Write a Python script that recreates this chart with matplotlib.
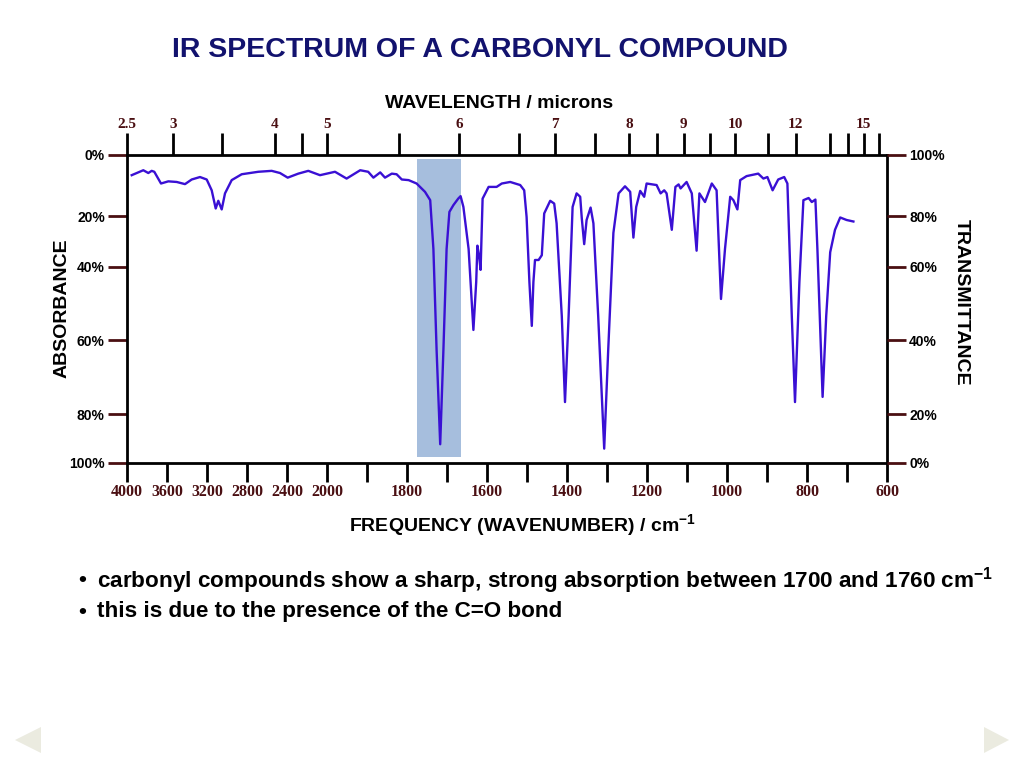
#!/usr/bin/env python3
"""
IR spectrum of a carbonyl compound - split wavenumber axis, absorbance / transmittance
"""

import matplotlib
matplotlib.use('Agg')
import matplotlib.pyplot as plt
import numpy as np
from matplotlib.patches import Rectangle, Polygon

plt.rcParams['font.family'] = ['Liberation Sans', 'DejaVu Sans']
plt.rcParams['mathtext.fontset'] = 'custom'
plt.rcParams['mathtext.rm'] = 'Liberation Sans'
plt.rcParams['mathtext.bf'] = 'Liberation Sans:bold'

# spectrum: wavenumber (cm-1) and transmittance (%)
wavenumber = [3953, 3837, 3787, 3753, 3727, 3660, 3587, 3503, 3420, 3353,
              3270, 3203, 3153, 3113, 3087, 3053, 3020, 2953, 2853, 2687,
              2553, 2470, 2393, 2287, 2187, 2070, 1980, 1951, 1917, 1897,
              1884, 1867, 1855, 1838, 1826, 1813, 1796, 1776, 1755, 1742,
              1734, 1726, 1717, 1709, 1701, 1694, 1684, 1672, 1666, 1659,
              1646, 1634, 1627, 1624, 1620, 1616, 1611, 1596, 1576, 1563,
              1542, 1517, 1507, 1501, 1494, 1488, 1484, 1480, 1471, 1463,
              1457, 1442, 1432, 1426, 1413, 1405, 1396, 1386, 1376, 1367,
              1363, 1357, 1351, 1341, 1334, 1322, 1307, 1297, 1284, 1271,
              1255, 1242, 1234, 1227, 1217, 1207, 1201, 1176, 1166, 1157,
              1151, 1138, 1129, 1121, 1116, 1101, 1088, 1076, 1069, 1055,
              1038, 1026, 1015, 1005, 992, 984, 974, 967, 951, 922,
              909, 899, 886, 872, 857, 849, 838, 830, 819, 809,
              796, 788, 779, 774, 761, 752, 742, 730, 717, 701, 684]
transmittance = [93.3, 94.9, 94.0, 94.7, 94.4, 90.6, 91.3, 91.1, 90.4, 91.9,
                 92.7, 91.9, 88.4, 82.5, 85.0, 82.2, 87.4, 91.7, 93.6, 94.4,
                 94.7, 94.0, 92.5, 93.8, 94.7, 93.3, 94.4, 92.2, 94.9, 94.4,
                 92.5, 94.2, 92.5, 93.8, 93.6, 91.9, 91.7, 90.6, 87.9, 85.2,
                 67.0, 37.3, 7.7, 37.3, 67.0, 81.4, 83.6, 85.7, 86.5, 83.0,
                 67.0, 42.8, 55.8, 68.3, 64.5, 59.1, 85.7, 89.5, 89.5, 90.6,
                 91.1, 90.1, 88.4, 79.7, 55.8, 43.9, 55.8, 62.6, 62.6, 64.5,
                 80.9, 85.0, 84.1, 77.2, 46.5, 23.3, 46.5, 83.0, 87.4, 86.3,
                 79.1, 68.9, 78.5, 82.8, 77.2, 46.5, 5.9, 37.3, 73.4, 87.4,
                 89.7, 87.9, 71.5, 83.0, 88.2, 86.3, 90.6, 90.1, 87.4, 88.4,
                 87.4, 74.6, 89.5, 90.3, 89.0, 91.1, 87.4, 66.3, 87.4, 84.6,
                 90.6, 88.4, 51.2, 67.0, 86.3, 85.2, 82.2, 91.7, 93.0, 93.8,
                 92.2, 92.7, 88.4, 91.9, 92.7, 90.6, 46.5, 23.3, 55.8, 85.2,
                 85.9, 84.6, 85.4, 67.0, 24.7, 46.5, 65.7, 74.6, 79.5, 78.5, 77.9]

# shaded carbonyl band
band_wn = (1776, 1666)
band_t = (2.5, 98.7)

# axis ticks
bottom_ticks = [4000, 3600, 3200, 2800, 2400, 2000, 1900, 1800, 1700, 1600,
                1500, 1400, 1300, 1200, 1100, 1000, 900, 800, 700, 600]
bottom_labels = ['4000', '3600', '3200', '2800', '2400', '2000', '', '1800', '',
                 '1600', '', '1400', '', '1200', '', '1000', '', '800', '', '600']
top_ticks = [4000, 3540, 3050, 2520, 2250, 2000, 1820, 1670, 1520, 1430, 1330,
             1245, 1175, 1108, 1042, 980, 897, 828, 743, 697, 658, 619]
top_labels = ['2.5', '3', '', '4', '', '5', '', '6', '', '7', '',
              '8', '', '9', '', '10', '', '12', '', '', '15', '']
trans_ticks = [100, 80, 60, 40, 20, 0]
absorb_labels = ['0%', '20%', '40%', '60%', '80%', '100%']
trans_labels = ['100%', '80%', '60%', '40%', '20%', '0%']


# split frequency scale: 10 cm-1 per unit above 2000, 2.5 below
def x_fwd(w):
    w = np.asarray(w, dtype=float)
    return np.where(w <= 2000, w * 0.4, 800 + (w - 2000) * 0.1)


def x_inv(p):
    p = np.asarray(p, dtype=float)
    return np.where(p <= 800, p / 0.4, 2000 + (p - 800) / 0.1)


# the printed chart has uneven gaps between its percentage gridlines
T_KNOTS = [0, 20, 40, 60, 80, 100]
P_KNOTS = [0, 48.7, 122.7, 196.4, 246.7, 308.4]


def y_fwd(t):
    return np.interp(np.asarray(t, dtype=float), T_KNOTS, P_KNOTS)


def y_inv(p):
    return np.interp(np.asarray(p, dtype=float), P_KNOTS, T_KNOTS)


fig = plt.figure(figsize=(10.24, 7.68), dpi=100)
W, H = 1024, 768
ax = fig.add_axes([127 / W, (H - 463) / H, 760 / W, 308.5 / H])
ax.set_xscale('function', functions=(x_fwd, x_inv))
ax.set_yscale('function', functions=(y_fwd, y_inv))
ax.set_xlim(4000, 600)
ax.set_ylim(0, 100)

ax.add_patch(Rectangle((band_wn[1], band_t[0]), band_wn[0] - band_wn[1],
                       band_t[1] - band_t[0], facecolor='#a6bedd',
                       edgecolor='none', zorder=1))
ax.plot(wavenumber, transmittance, color='#3a10d4', linewidth=1.7, zorder=3)

for s in ax.spines.values():
    s.set_linewidth(2)
    s.set_color('black')

maroon = '#4a0f12'
serif = ['Liberation Serif', 'DejaVu Serif']

ax.set_xticks(bottom_ticks)
ax.set_xticklabels(bottom_labels, family=serif, fontsize=11.5, fontweight='bold',
                   color=maroon)
ax.xaxis.set_minor_locator(matplotlib.ticker.NullLocator())
ax.tick_params(axis='x', direction='out', length=14, width=2, color='black', pad=1)

ax.set_yticks(trans_ticks)
ax.set_yticklabels(absorb_labels, fontsize=10, fontweight='bold')
ax.yaxis.set_minor_locator(matplotlib.ticker.NullLocator())
ax.tick_params(axis='y', direction='out', length=14, width=2, color=maroon, pad=2)

# right axis: transmittance
ax_r = ax.twinx()
ax_r.set_yscale('function', functions=(y_fwd, y_inv))
ax_r.set_ylim(0, 100)
ax_r.set_yticks(trans_ticks)
ax_r.set_yticklabels(trans_labels, fontsize=10, fontweight='bold')
ax_r.yaxis.set_minor_locator(matplotlib.ticker.NullLocator())
ax_r.tick_params(axis='y', direction='out', length=14, width=2, color=maroon, pad=2)
for s in ax_r.spines.values():
    s.set_visible(False)

# top axis: wavelength in microns
ax_t = ax.twiny()
ax_t.set_xscale('function', functions=(x_fwd, x_inv))
ax_t.set_xlim(4000, 600)
ax_t.set_xticks(top_ticks)
ax_t.set_xticklabels(top_labels, family=serif, fontsize=11, fontweight='bold',
                     color=maroon)
ax_t.xaxis.set_minor_locator(matplotlib.ticker.NullLocator())
ax_t.tick_params(axis='x', direction='out', length=16, width=2, color='black', pad=1)
for s in ax_t.spines.values():
    s.set_visible(False)

# texts
fig.text(480 / W, 1 - 50 / H, 'IR SPECTRUM OF A CARBONYL COMPOUND', ha='center',
         va='center', fontsize=20.5, fontweight='bold', color='#12126e')
fig.text(499 / W, 1 - 104 / H, 'WAVELENGTH / microns', ha='center', va='center',
         fontsize=14, fontweight='bold')
fig.text(522 / W, 1 - 526 / H, r'FREQUENCY (WAVENUMBER) / cm$^{\mathbf{-1}}$',
         ha='center', va='center', fontsize=14, fontweight='bold')
fig.text(62 / W, 1 - 308 / H, 'ABSORBANCE', ha='center', va='center', rotation=90,
         fontsize=14, fontweight='bold')
fig.text(961 / W, 1 - 302 / H, 'TRANSMITTANCE', ha='center', va='center',
         rotation=270, fontsize=14, fontweight='bold')

bullets = [r'carbonyl compounds show a sharp, strong absorption between 1700 and 1760 cm$^{\mathbf{-1}}$',
           'this is due to the presence of the C=O bond']
for i, line in enumerate(bullets):
    y = 1 - (581 + i * 31) / H
    fig.text(78 / W, y, '\u2022', ha='left', va='center', fontsize=16,
             fontweight='bold')
    fig.text(97 / W, y, line, ha='left', va='center', fontsize=16.2,
             fontweight='bold')

# slide navigation arrows
grey = '#ebebe0'
fig.patches.append(Polygon([(15 / W, 1 - 740 / H), (41 / W, 1 - 727 / H),
                            (41 / W, 1 - 753 / H)], closed=True, facecolor=grey,
                           edgecolor='none', transform=fig.transFigure))
fig.patches.append(Polygon([(1009 / W, 1 - 740 / H), (984 / W, 1 - 727 / H),
                            (984 / W, 1 - 753 / H)], closed=True, facecolor=grey,
                           edgecolor='none', transform=fig.transFigure))

fig.savefig('out.png', dpi=100)
